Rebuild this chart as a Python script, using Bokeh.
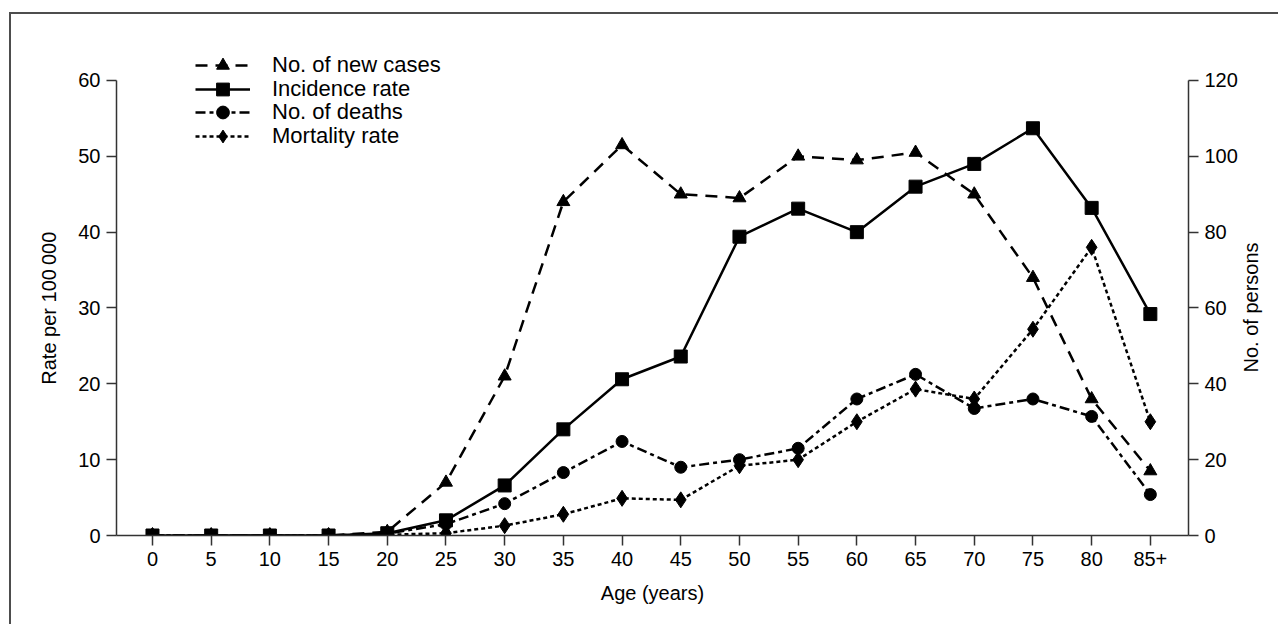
import math
from bokeh.plotting import figure
from bokeh.models import Range1d, LinearAxis, Legend, LegendItem, FixedTicker
from bokeh.embed import file_html
from bokeh.resources import INLINE

ages = ["0", "5", "10", "15", "20", "25", "30", "35", "40", "45", "50",
        "55", "60", "65", "70", "75", "80", "85+"]
new_cases = [0, 0, 0, 0, 1, 14, 42, 88, 103, 90, 89, 100, 99, 101, 90, 68, 36, 17]
incidence = [0, 0, 0, 0, 0.3, 2.0, 6.6, 14.0, 20.6, 23.6, 39.4, 43.1, 40.0, 46.0, 49.0, 53.7, 43.2, 29.2]
deaths = [0, 0, 0, 0, 0.5, 3, 8.4, 16.6, 24.8, 18, 20, 23, 36, 42.5, 33.5, 36, 31.4, 10.8]
mortality = [0, 0, 0, 0, 0.1, 0.3, 1.3, 2.8, 4.9, 4.7, 9.2, 10.0, 15.0, 19.3, 18.0, 27.2, 38.0, 15.0]

series_labels = ["No. of new cases", "Incidence rate", "No. of deaths", "Mortality rate"]
left_ticks = [0, 10, 20, 30, 40, 50, 60]
right_ticks = [0, 20, 40, 60, 80, 100, 120]
right_title = "No. of persons"

FONT = "Liberation Sans"
INK = "#000000"
AXC = "#333333"
PAD = "\u00a0" * 8  # centres the left title on the 0-60 span instead of the whole frame

xs = list(range(len(ages)))

p = figure(width=1269, height=612,
           x_range=Range1d(-0.613, 17.65), y_range=Range1d(0, 65.8),
           output_backend="svg", toolbar_location=None,
           min_border_left=105, min_border_right=92,
           min_border_top=22, min_border_bottom=91)
p.styles = {"margin-top": "12px", "margin-left": "9px",
            "border-top": "2px solid #4d4d4d", "border-left": "2px solid #4d4d4d"}
p.extra_y_ranges = {"right": Range1d(0, 131.6)}
p.outline_line_color = None
p.xgrid.visible = False
p.ygrid.visible = False

xa = p.xaxis[0]
xa.ticker = FixedTicker(ticks=xs)
xa.major_label_overrides = {i: a for i, a in enumerate(ages)}
xa.axis_label = "Age (years)"

ya = p.yaxis[0]
ya.ticker = FixedTicker(ticks=left_ticks)
ya.bounds = (0, 60)
ya.axis_label = "Rate per 100\u2009000" + PAD

ra = LinearAxis(y_range_name="right", ticker=FixedTicker(ticks=right_ticks),
                bounds=(0, 120))
p.add_layout(ra, "right")

for ax in [xa, ya, ra]:
    ax.axis_line_color = AXC
    ax.axis_line_width = 1.5
    ax.major_tick_line_color = AXC
    ax.major_tick_line_width = 1.5
    ax.major_tick_out = 10
    ax.major_tick_in = 0
    ax.minor_tick_line_color = None
    ax.major_label_text_font = FONT
    ax.major_label_text_font_size = "20px"
    ax.major_label_text_color = INK
    ax.axis_label_text_font = FONT
    ax.axis_label_text_font_size = "20px"
    ax.axis_label_text_font_style = "normal"
    ax.axis_label_text_color = INK
    ax.major_label_standoff = 6
xa.axis_label_standoff = 13
ya.axis_label_standoff = 15

# right-hand title, reading bottom to top, drawn as the single label of an outer bare axis;
# with a numeric orientation the text starts at the tick, so the tick sits at the text's
# lower end (half the title length below the middle of the 0-120 span)
mid = (right_ticks[0] + right_ticks[-1]) / 2
title_start = mid - 17
ta = LinearAxis(y_range_name="right", ticker=FixedTicker(ticks=[title_start]),
                major_label_overrides={title_start: right_title},
                major_label_orientation=math.pi / 2)
ta.axis_line_color = None
ta.major_tick_line_color = None
ta.minor_tick_line_color = None
ta.major_tick_out = 0
ta.major_tick_in = 0
ta.major_label_standoff = 11
ta.major_label_text_font = FONT
ta.major_label_text_font_size = "20px"
ta.major_label_text_color = INK
p.add_layout(ta, "right")

LW = 2.5
l1 = p.line(xs, new_cases, y_range_name="right", line_color="black", line_width=LW, line_dash="12 8")
s1 = p.scatter(xs, new_cases, y_range_name="right", marker="triangle", size=13, color="black")
l2 = p.line(xs, incidence, line_color="black", line_width=LW)
s2 = p.scatter(xs, incidence, marker="square", size=13, color="black")
l3 = p.line(xs, deaths, y_range_name="right", line_color="black", line_width=LW, line_dash="10 4 4 4")
s3 = p.scatter(xs, deaths, y_range_name="right", marker="circle", size=12, color="black")
l4 = p.line(xs, mortality, line_color="black", line_width=LW, line_dash="4 3")
s4 = p.scatter(xs, mortality, marker="diamond", size=16, color="black")

# one single-row legend per series so the legend markers can be full size
row_bottoms = [454, 430, 407, 383]  # screen px above the frame bottom
for label, rends, yb in zip(series_labels, [[l1, s1], [l2, s2], [l3, s3], [l4, s4]], row_bottoms):
    lg = Legend(items=[LegendItem(label=label, renderers=rends)], location=(79, yb))
    lg.padding = 0
    lg.margin = 0
    lg.spacing = 0
    lg.label_height = 32
    lg.glyph_height = 32
    lg.glyph_width = 55
    lg.label_standoff = 22
    lg.label_text_font = FONT
    lg.label_text_font_size = "22px"
    lg.label_text_color = INK
    lg.border_line_color = None
    lg.background_fill_alpha = 0
    p.add_layout(lg, "center")

open("out.html", "w").write(file_html(p, INLINE))
